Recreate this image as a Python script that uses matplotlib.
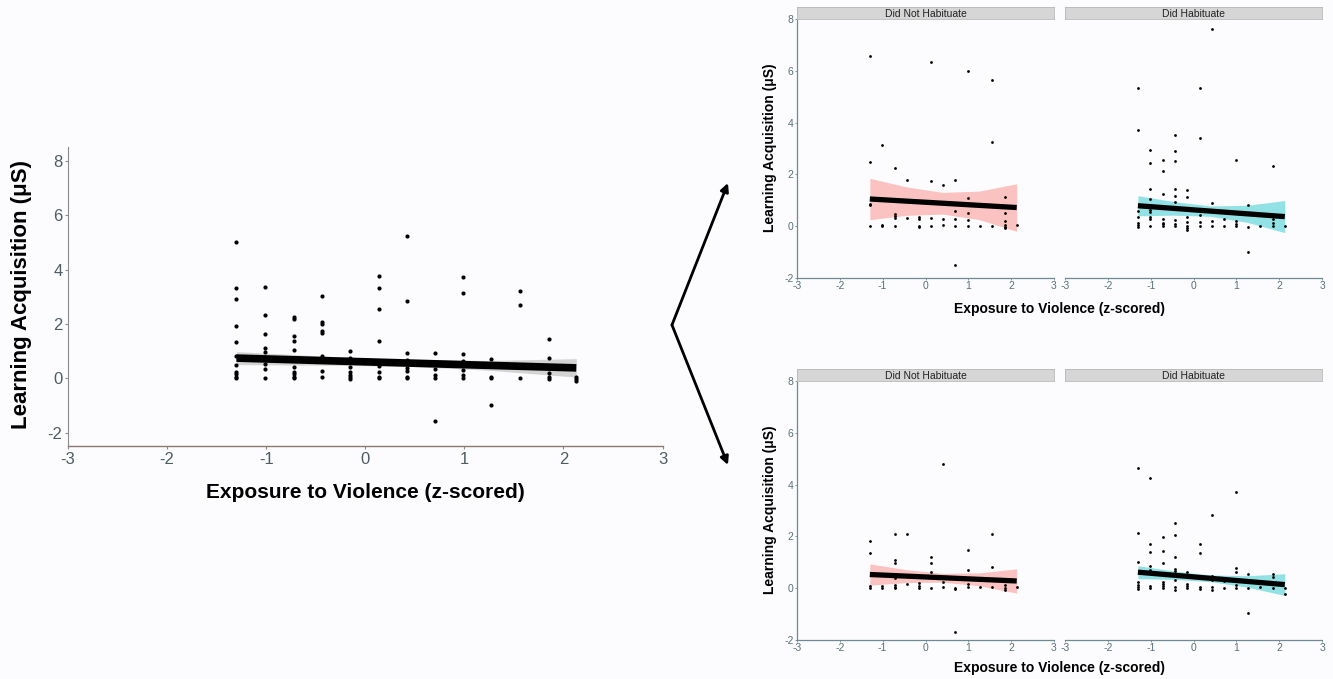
import matplotlib
matplotlib.use("Agg")
import matplotlib.pyplot as plt
import numpy as np

# exposure to violence levels (z-scored), shared by all panels
x_levels = [-1.30, -1.01, -0.72, -0.44, -0.15, 0.14, 0.42, 0.70, 0.99, 1.27, 1.56, 1.85, 2.13]

# learning acquisition values per x level
main_y = [
    [5.00, 3.33, 2.93, 1.91, 1.32, 0.81, 0.47, 0.22, 0.14, 0.06, 0.00],
    [3.35, 2.32, 1.61, 1.12, 0.97, 0.54, 0.33, 0.01],
    [2.27, 2.17, 1.55, 1.37, 1.05, 0.42, 0.22, 0.14, 0.06, 0.00],
    [3.02, 2.08, 1.98, 1.74, 1.65, 0.81, 0.26, 0.05],
    [1.00, 0.76, 0.42, 0.23, 0.11, 0.03, -0.03],
    [3.77, 3.33, 2.55, 1.37, 0.46, 0.23, 0.05, -0.01],
    [5.22, 2.86, 0.92, 0.68, 0.37, 0.28, 0.04, 0.00],
    [0.92, 0.33, 0.12, 0.00, -1.58],
    [3.73, 3.14, 0.90, 0.62, 0.31, 0.12, 0.01],
    [0.71, 0.04, -0.01, -0.98],
    [3.22, 2.68, 0.02],
    [1.45, 0.75, 0.37, 0.18, 0.04, -0.04],
    [0.04, -0.04, -0.11],
]

top_not_y = [
    [6.56, 2.47, 0.87, 0.81, 0.00],
    [3.15, 0.03, 0.00],
    [2.25, 0.48, 0.39, 0.30, 0.00],
    [1.80, 0.32],
    [0.35, 0.28, 0.00, -0.05],
    [6.35, 1.76, 0.32, 0.00],
    [1.60, 0.28, 0.03],
    [1.80, 0.60, 0.26, 0.00, -1.49],
    [6.00, 1.09, 0.50, 0.24, 0.00],
    [0.00],
    [5.63, 3.24, 0.00],
    [1.12, 0.49, 0.19, 0.05, -0.03, -0.08],
    [0.05],
]

top_hab_y = [
    [5.34, 3.72, 0.59, 0.34, 0.14, 0.03, -0.04],
    [2.95, 2.43, 1.44, 1.04, 0.62, 0.53, 0.34, 0.27, 0.00],
    [2.57, 2.12, 1.24, 0.26, 0.14, 0.07, 0.00],
    [3.54, 2.91, 2.52, 1.42, 1.15, 0.94, 0.22, 0.09, 0.00],
    [1.38, 1.13, 0.34, 0.18, 0.00, -0.08, -0.15],
    [5.32, 3.40, 0.42, 0.18, 0.00],
    [7.60, 0.89, 0.20, 0.00],
    [0.27, 0.00],
    [2.55, 0.20, 0.08, 0.00],
    [0.80, -0.05, -1.00],
    [0.00],
    [2.34, 0.26, 0.13, 0.00],
    [0.00],
]

bot_not_y = [
    [1.84, 1.36, 0.08, 0.00],
    [0.08, 0.00],
    [2.10, 1.08, 0.98, 0.40, 0.13, 0.05, 0.00],
    [2.08, 0.18],
    [0.20, 0.08, -0.01],
    [1.22, 0.98, 0.62, 0.00],
    [4.79, 0.23, 0.03],
    [0.00, -0.03, -1.69],
    [1.47, 0.69, 0.18, 0.03],
    [0.03],
    [2.11, 0.82, 0.03],
    [0.13, 0.00, -0.05],
    [0.03],
]

bot_hab_y = [
    [4.66, 2.15, 1.02, 0.23, 0.13, 0.04, -0.03],
    [4.27, 1.69, 1.40, 0.85, 0.72, 0.08, 0.00],
    [1.96, 1.45, 0.97, 0.23, 0.15, 0.08, 0.00],
    [2.50, 2.05, 1.22, 0.76, 0.67, 0.33, 0.03, -0.05],
    [0.64, 0.15, 0.08, 0.00],
    [1.71, 1.36, 0.03, -0.03],
    [2.83, 0.49, 0.33, 0.03, -0.08],
    [0.26, 0.00],
    [3.72, 0.77, 0.64, 0.14, 0.00],
    [0.55, 0.00, -0.95],
    [0.03],
    [0.55, 0.44, 0.00],
    [0.00, -0.24],
]

# fitted lines (value at x=-1.30 and x=2.13) and confidence half-widths
fit_x = [-1.30, 2.13]
ci_x = [-1.30, -0.45, 0.40, 1.25, 2.13]
main_fit = [0.74, 0.38]
main_ci = [0.24, 0.17, 0.12, 0.18, 0.34]
top_not_fit = [1.05, 0.72]
top_not_ci = [0.80, 0.55, 0.42, 0.55, 0.92]
top_hab_fit = [0.79, 0.37]
top_hab_ci = [0.39, 0.26, 0.20, 0.33, 0.62]
bot_not_fit = [0.53, 0.28]
bot_not_ci = [0.41, 0.25, 0.17, 0.25, 0.47]
bot_hab_fit = [0.62, 0.14]
bot_hab_ci = [0.25, 0.16, 0.13, 0.22, 0.42]

facet_labels = ["Did Not Habituate", "Did Habituate"]
x_ticks = [-3, -2, -1, 0, 1, 2, 3]
y_ticks = [-2, 0, 2, 4, 6, 8]

bg = "#fcfcfe"
narrow = ["Liberation Sans Narrow", "Liberation Sans", "DejaVu Sans"]
bold_font = ["Liberation Sans", "DejaVu Sans"]


def flatten(cols):
    xs, ys = [], []
    for xv, col in zip(x_levels, cols):
        xs += [xv] * len(col)
        ys += col
    return xs, ys


def draw_fit(ax, fit, ci, color, alpha, lw):
    cx = np.array(ci_x)
    line = np.interp(cx, fit_x, fit)
    hw = np.array(ci)
    ax.fill_between(cx, line - hw, line + hw, color=color, alpha=alpha, lw=0, zorder=1)
    ax.plot(fit_x, fit, color="black", lw=lw, solid_capstyle="butt", zorder=3)


fig = plt.figure(figsize=(13.33, 6.79), dpi=100, facecolor=bg)

# ---- main panel
ax = fig.add_axes([0.051, 0.343, 0.446, 0.440], facecolor=bg)
xs, ys = flatten(main_y)
draw_fit(ax, main_fit, main_ci, "#b8b8b8", 0.6, 5.5)
ax.scatter(xs, ys, s=9, color="black", lw=0, zorder=4)
ax.set_xlim(-3, 3)
ax.set_ylim(-2.5, 8.5)
ax.set_xticks(x_ticks)
ax.set_yticks(y_ticks)
ax.set_xticklabels([str(t) for t in x_ticks], family=narrow, fontsize=12, color="#4e5d64")
ax.set_yticklabels([str(t) for t in y_ticks], family=narrow, fontsize=12, color="#4e5d64")
ax.tick_params(length=2, width=0.8, color="#8a8a8a", pad=2)
for s in ["top", "right"]:
    ax.spines[s].set_visible(False)
ax.spines["bottom"].set_color("#8c7a72")
ax.spines["left"].set_color("#8a8a8a")
ax.spines["bottom"].set_linewidth(1.0)
ax.spines["left"].set_linewidth(0.8)
fig.text(0.274, 0.274, "Exposure to Violence (z-scored)", ha="center", va="center",
         family=bold_font, weight="bold", fontsize=15)
fig.text(0.0165, 0.566, "Learning Acquisition (\u03bcS)", ha="center", va="center",
         rotation=90, family=bold_font, weight="bold", fontsize=16)

# ---- facet panels
pink = "#F8766D"
teal = "#00BFC4"
rows = [
    (0.5906, 0.545, 0.782, [(top_not_y, top_not_fit, top_not_ci, pink),
                            (top_hab_y, top_hab_fit, top_hab_ci, teal)]),
    (0.0574, 0.016, 0.249, [(bot_not_y, bot_not_fit, bot_not_ci, pink),
                            (bot_hab_y, bot_hab_fit, bot_hab_ci, teal)]),
]
lefts = [0.5979, 0.7990]
w, h = 0.1928, 0.3814
for bottom, xlab_y, ylab_y, panels in rows:
    for i, (cols, fit, ci, col) in enumerate(panels):
        a = fig.add_axes([lefts[i], bottom, w, h], facecolor=bg)
        xs, ys = flatten(cols)
        draw_fit(a, fit, ci, col, 0.42, 3.8)
        a.scatter(xs, ys, s=4, color="black", lw=0, zorder=4)
        a.set_xlim(-3, 3)
        a.set_ylim(-2, 8)
        a.set_xticks(x_ticks)
        a.set_xticklabels([str(t) for t in x_ticks], family=narrow, fontsize=7.5, color="#58707a")
        a.set_yticks(y_ticks)
        a.tick_params(length=1.5, width=0.6, color="#6c8a94", pad=1)
        if i == 0:
            a.set_yticklabels([str(t) for t in y_ticks], family=narrow, fontsize=7.5, color="#58707a")
        else:
            a.set_yticklabels([])
            a.tick_params(axis="y", length=0)
            a.spines["left"].set_visible(False)
        for s in ["top", "right"]:
            a.spines[s].set_visible(False)
        a.spines["bottom"].set_color("#6c8a94")
        a.spines["left"].set_color("#6c8a94")
        a.spines["bottom"].set_linewidth(0.9)
        a.spines["left"].set_linewidth(0.9)
        # facet strip
        strip = fig.add_axes([lefts[i], bottom + h, w, 0.0177], facecolor="#d6d6d6")
        strip.set_xticks([])
        strip.set_yticks([])
        for s in strip.spines.values():
            s.set_color("#b8b8b8")
            s.set_linewidth(0.6)
        strip.text(0.5, 0.45, facet_labels[i], ha="center", va="center",
                   fontsize=7.5, color="#222222", family=narrow)
    fig.text(0.795, xlab_y, "Exposure to Violence (z-scored)", ha="center", va="center",
             family=bold_font, weight="bold", fontsize=10)
    fig.text(0.578, ylab_y, "Learning Acquisition (\u03bcS)", ha="center", va="center",
             rotation=90, family=bold_font, weight="bold", fontsize=10)

# ---- arrows from main panel to the facet panels
vertex = (0.5041, 0.5214)
for tip in [(0.5461, 0.7305), (0.5461, 0.3152)]:
    fig.patches.append(matplotlib.patches.FancyArrowPatch(
        vertex, tip, transform=fig.transFigure, arrowstyle="-|>", mutation_scale=12,
        lw=2.0, color="black", shrinkA=0, shrinkB=0))

fig.savefig("out.png", dpi=100, facecolor=bg)
